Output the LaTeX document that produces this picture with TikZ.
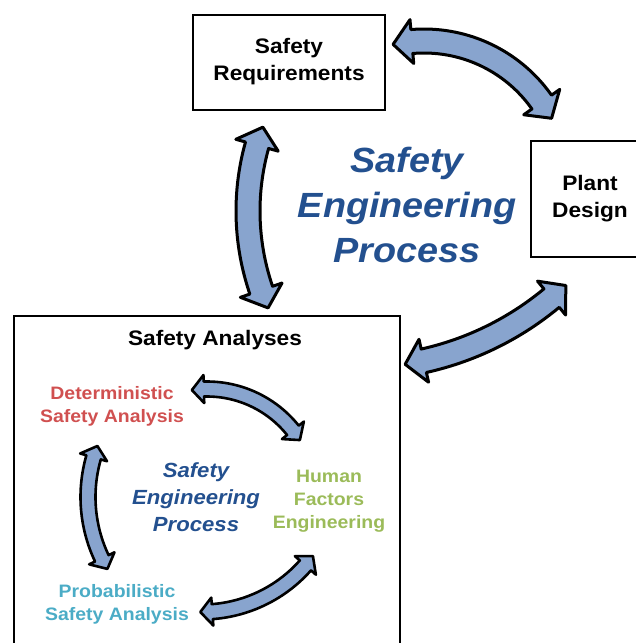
\documentclass[tikz,border=0pt]{standalone}
\usepackage{fontspec}
\setmainfont{Liberation Sans}[FakeStretch=1.08]
\definecolor{arrowfill}{HTML}{88A4CE}
\definecolor{titleblue}{HTML}{23508F}
\definecolor{detred}{HTML}{D05050}
\definecolor{hfgreen}{HTML}{9BBB59}
\definecolor{psacyan}{HTML}{4BACC6}
% #1 style, #2 cx, #3 cy, #4 R, #5 a1, #6 a2, #7 h, #8 H, #9 L
\newcommand\blockarc[9]{%
 \pgfmathsetmacro\baA{#5+#9/#4*180/pi}%
 \pgfmathsetmacro\baB{#6-#9/#4*180/pi}%
 \draw[#1] ({#2+#4*cos(#5)},{#3+#4*sin(#5)})
   -- ({#2+(#4+#8)*cos(\baA)},{#3+(#4+#8)*sin(\baA)})
   -- plot[domain=\baA:\baB, samples=40, variable=\t] ({#2+(#4+#7)*cos(\t)},{#3+(#4+#7)*sin(\t)})
   -- ({#2+(#4+#8)*cos(\baB)},{#3+(#4+#8)*sin(\baB)})
   -- ({#2+#4*cos(#6)},{#3+#4*sin(#6)})
   -- ({#2+(#4-#8)*cos(\baB)},{#3+(#4-#8)*sin(\baB)})
   -- plot[domain=\baB:\baA, samples=40, variable=\t] ({#2+(#4-#7)*cos(\t)},{#3+(#4-#7)*sin(\t)})
   -- ({#2+(#4-#8)*cos(\baA)},{#3+(#4-#8)*sin(\baA)})
   -- cycle;}
\tikzset{
  box/.style={draw=black, line width=2.5pt},
  bigarrow/.style={draw=black, fill=arrowfill, line width=3pt, line join=round},
  smallarrow/.style={draw=black, fill=arrowfill, line width=2.6pt, line join=round},
  blacklabel/.style={inner sep=0pt, align=center, font=\bfseries\fontsize{21}{27}\selectfont},
  bigtitle/.style={inner sep=0pt, align=center, text=titleblue, font=\bfseries\itshape\fontsize{35}{45}\selectfont},
  smalltitle/.style={inner sep=0pt, align=center, text=titleblue, font=\bfseries\itshape\fontsize{20.5}{27}\selectfont},
  sublabel/.style={inner sep=0pt, align=center, font=\bfseries\fontsize{18}{23}\selectfont},
}
\begin{document}
\begin{tikzpicture}[x=1pt, y=-1pt]
\useasboundingbox (0,0) rectangle (636,643);
\clip (0,0) rectangle (636,643);
% boxes
\draw[box] (193,15) rectangle (385,110);
\draw[box] (531,141) rectangle (645,257);
\draw[box] (14,316) rectangle (400,655);
% outer arrows
\blockarc{bigarrow}{424}{185}{144}{-102.4}{-27.6}{12}{22}{19}
\blockarc{bigarrow}{492}{211}{244}{156.6}{200.1}{12}{22}{19}
\blockarc{bigarrow}{358}{65}{303}{46.7}{81.05}{12}{22}{19}
% inner arrows
\blockarc{smallarrow}{207}{499}{110}{-97.9}{-32.4}{7.5}{14}{12}
\blockarc{smallarrow}{231}{497}{143}{149.8}{200.9}{7.5}{14}{12}
\blockarc{smallarrow}{202}{474}{138}{36.5}{90.7}{7.5}{14}{12}
% texts
\node[blacklabel] (sr) at (289,62) {Safety\\Requirements};
\node[blacklabel] (pd) at (590,198.5) {Plant\\Design};
\node[blacklabel] (sa) at (215,340) {Safety Analyses};
\node[bigtitle] (sep) at (407,205) {Safety\\Engineering\\Process};
\node[smalltitle] (isep) at (196,497) {Safety\\Engineering\\Process};
\node[sublabel, text=detred] (dsa) at (112,406.5) {Deterministic\\Safety Analysis};
\node[sublabel, text=hfgreen] (hfe) at (329,501) {Human\\Factors\\Engineering};
\node[sublabel, text=psacyan] (psa) at (117,604) {Probabilistic\\Safety Analysis};
\end{tikzpicture}
\end{document}
